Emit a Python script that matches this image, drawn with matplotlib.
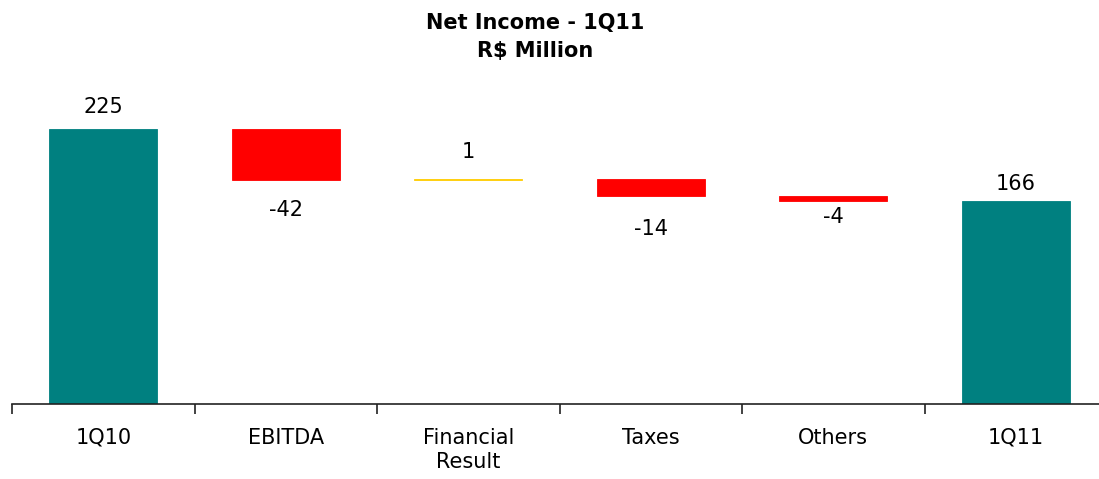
import matplotlib
matplotlib.use('Agg')
import matplotlib.pyplot as plt
import numpy as np

# waterfall data (R$ million)
categories = ['1Q10', 'EBITDA', 'Financial\nResult', 'Taxes', 'Others', '1Q11']
values = [225, -42, 1, -14, -4, 166]
is_total = [True, False, False, False, False, True]

teal = '#008080'
red = '#FF0000'
gold = '#FFCC00'

# label distance from bar edge, in pixels (as placed in the original)
label_gap = [22, 30, 27, 33, 16, 17]

# bottoms for the floating bars
bottoms = []
heights = []
colors = []
running = 0
for v, tot in zip(values, is_total):
    if tot:
        bottoms.append(0)
        heights.append(v)
        colors.append(teal)
        running = v
    else:
        if v >= 0:
            bottoms.append(running)
            colors.append(gold)
        else:
            bottoms.append(running + v)
            colors.append(red)
        heights.append(abs(v))
        running += v

fig = plt.figure(figsize=(10.99, 4.79), dpi=100)
ax = fig.add_axes([12 / 1099, 75 / 479, 1095 / 1099, 314 / 479])

x = np.arange(len(categories))
ax.bar(x, heights, bottom=bottoms, width=0.59, color=colors,
       edgecolor=colors, linewidth=0.6)

# value labels
for i, (v, b, h) in enumerate(zip(values, bottoms, heights)):
    gap = label_gap[i] * 0.72
    if v >= 0:
        ax.annotate(str(v), (x[i], b + h), xytext=(0, gap), textcoords='offset points',
                    ha='center', va='center', fontsize=15)
    else:
        ax.annotate(str(v), (x[i], b), xytext=(0, -gap), textcoords='offset points',
                    ha='center', va='center', fontsize=15)

ax.set_xlim(-0.5, len(categories) - 0.5)
ax.set_ylim(0, 257)

for s in ['top', 'right', 'left']:
    ax.spines[s].set_visible(False)
ax.spines['bottom'].set_linewidth(1.2)
ax.spines['bottom'].set_color('#222222')
ax.set_yticks([])

ax.set_xticks(x)
ax.set_xticklabels(categories, fontsize=15, linespacing=1.25)
ax.tick_params(axis='x', which='major', length=0, pad=17)
ax.set_xticks(np.arange(-0.5, len(categories)), minor=True)
ax.tick_params(axis='x', which='minor', length=7, width=1.2, direction='out', color='#222222')

fig.text(535 / 1099, 1 - 37 / 479, 'Net Income - 1Q11\nR$ Million', ha='center', va='center',
         fontsize=15, fontweight='bold', linespacing=1.45)

fig.savefig('out.png', dpi=100)
